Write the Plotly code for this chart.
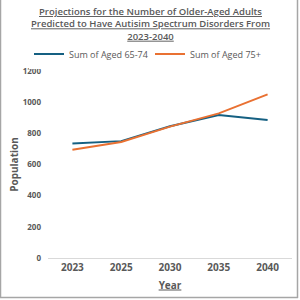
import plotly.graph_objects as go

years = ["2023", "2025", "2030", "2035", "2040"]
aged_65_74 = [735, 750, 845, 918, 886]
aged_75_plus = [695, 745, 843, 928, 1050]
y_ticks = [0, 200, 400, 600, 800, 1000, 1200]

grey = "#595959"
fnt = "Open Sans"

fig = go.Figure()
fig.add_trace(go.Scatter(x=years, y=aged_65_74, mode="lines", name="Sum of Aged 65-74",
                         line=dict(color="#156082", width=2)))
fig.add_trace(go.Scatter(x=years, y=aged_75_plus, mode="lines", name="Sum of Aged 75+",
                         line=dict(color="#E97132", width=2)))

L, R, T, B = 48, 8, 71, 42
pw, ph = 300 - L - R, 300 - T - B

def px(x):
    return (x - L) / pw

def py(y):
    return (300 - B - y) / ph

border = dict(type="line", xref="paper", yref="paper", line=dict(color="#A6A6A6", width=1.5))
shapes = [
    dict(border, x0=px(0.5), x1=px(0.5), y0=py(0), y1=py(298)),
    dict(border, x0=px(297.5), x1=px(297.5), y0=py(0), y1=py(298)),
    dict(border, x0=px(0), x1=px(298), y0=py(297.5), y1=py(297.5)),
]

title_text = ("<u>Projections for the Number of Older-Aged Adults</u><br>"
              "<u>Predicted to Have Autisim Spectrum Disorders From</u><br>"
              "<u>2023-2040</u>")

fig.update_layout(
    width=300, height=300,
    margin=dict(l=L, r=R, t=T, b=B),
    paper_bgcolor="white", plot_bgcolor="white",
    font=dict(family=fnt, color=grey),
    annotations=[dict(
        text=title_text, xref="paper", yref="paper", x=px(150), y=py(3),
        xanchor="center", yanchor="top", showarrow=False, align="center",
        font=dict(size=9.5, color=grey, family=fnt, weight=600),
    )],
    legend=dict(orientation="h", x=px(150), xanchor="center", y=py(54), yanchor="middle",
                font=dict(size=9, color=grey, family=fnt),
                itemwidth=30, entrywidth=76, entrywidthmode="pixels", tracegroupgap=0),
    showlegend=True,
    shapes=shapes,
    xaxis=dict(
        type="category", showgrid=False, showline=True, linecolor="#D9D9D9", linewidth=1,
        ticks="", tickfont=dict(size=10, color=grey, family=fnt, weight="bold"),
        title=dict(text="<u>Year</u>", font=dict(size=10, color=grey, family=fnt, weight="bold"), standoff=8),
        range=[-0.5, 4.5],
    ),
    yaxis=dict(
        range=[0, 1200], tickvals=y_ticks, showgrid=False, zeroline=False, showline=False,
        ticks="", tickfont=dict(size=8, color=grey, family=fnt, weight="bold"),
        ticklabelstandoff=6,
        title=dict(text="Population", font=dict(size=10, color=grey, family=fnt, weight="bold"), standoff=2),
    ),
)

fig.write_html("out.html")
